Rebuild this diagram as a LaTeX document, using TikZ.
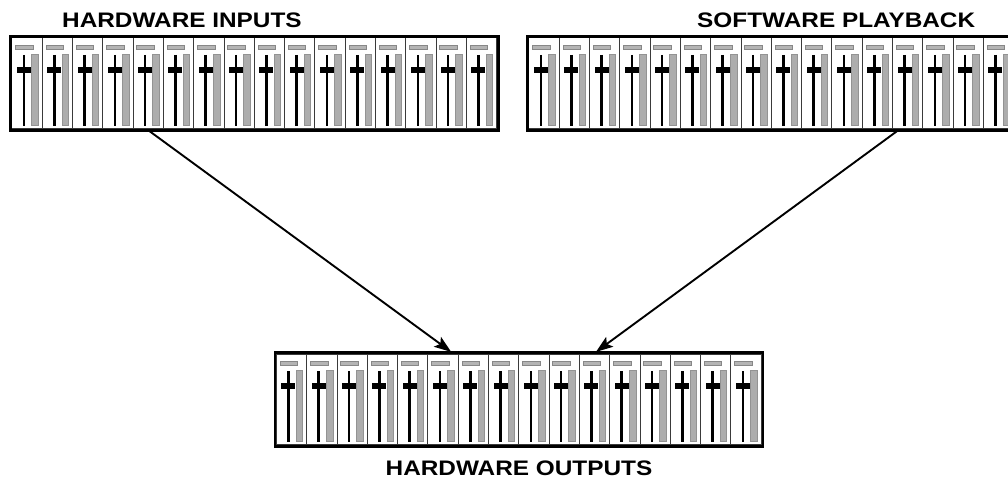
\documentclass[tikz,border=0pt]{standalone}
\usepackage{fontspec}
\setmainfont{Liberation Sans}
\usetikzlibrary{arrows.meta,calc}
\definecolor{meter}{HTML}{ADADAD}
\definecolor{lbl}{HTML}{B4B4B4}
\definecolor{chb}{HTML}{3A3A3A}
\tikzset{
  frame/.style={draw=black, line width=2.6pt, fill=white, minimum width=488pt,
    minimum height=94pt, inner sep=0pt, outer sep=0pt, anchor=north west},
  chanbox/.style={draw=chb, line width=1pt},
  meterbar/.style={fill=meter, draw=meter!85!black, line width=0.4pt},
  lblbar/.style={fill=lbl, draw=lbl!75!black, line width=0.4pt},
  faderline/.style={draw=black, line width=2.6pt},
  knob/.style={fill=black},
  title/.style={font=\bfseries\fontsize{21}{24}\selectfont, inner sep=0pt},
  link/.style={line width=1.9pt, -{Stealth[length=17pt,width=12pt,inset=3.5pt]}, shorten >=1pt},
}
\newcommand\mixerstrip[3]{%
  \node[frame] (#1) at (#2,#3) {};
  \foreach \i in {0,...,15}{
    \pgfmathsetmacro\cx{#2+1.4+\i*30.3}
    \draw[chanbox] (\cx,#3+1.5) rectangle (\cx+30.3,#3+92.2);
    \draw[lblbar] (\cx+3.5,#3+9) rectangle (\cx+21,#3+13);
    \draw[meterbar] (\cx+19.5,#3+18) rectangle (\cx+26,#3+89);
    \draw[faderline] (\cx+12,#3+18.5) -- (\cx+12,#3+89);
    \fill[knob] (\cx+5,#3+30.5) rectangle (\cx+19,#3+36.5);
  }
  \draw[line width=2.6pt] (#1.north west) rectangle (#1.south east);
}
\begin{document}
\begin{tikzpicture}[x=1pt,y=-1pt]
  \useasboundingbox (0,0) rectangle (1008,484);
  \fill[white] (0,0) rectangle (1008,484);

  \mixerstrip{hwin}{10.5}{36.5}
  \mixerstrip{swpb}{527.5}{36.5}
  \mixerstrip{hwout}{275}{352.5}

  \node[title, anchor=base west] (t1) at (62,27.5) {\scalebox{1.16}[1]{HARDWARE INPUTS}};
  \node[title, anchor=base west] (t2) at (697,27.5) {\scalebox{1.16}[1]{SOFTWARE PLAYBACK}};
  \node[title, anchor=base] (t3) at (519,475.5) {\scalebox{1.16}[1]{HARDWARE OUTPUTS}};

  \draw[link] ($(hwin.south west)!0.283!(hwin.south east)$) -- ($(hwout.north west)!0.3627!(hwout.north east)$);
  \draw[link] ($(swpb.south west)!0.759!(swpb.south east)$) -- ($(hwout.north west)!0.656!(hwout.north east)$);
\end{tikzpicture}
\end{document}
